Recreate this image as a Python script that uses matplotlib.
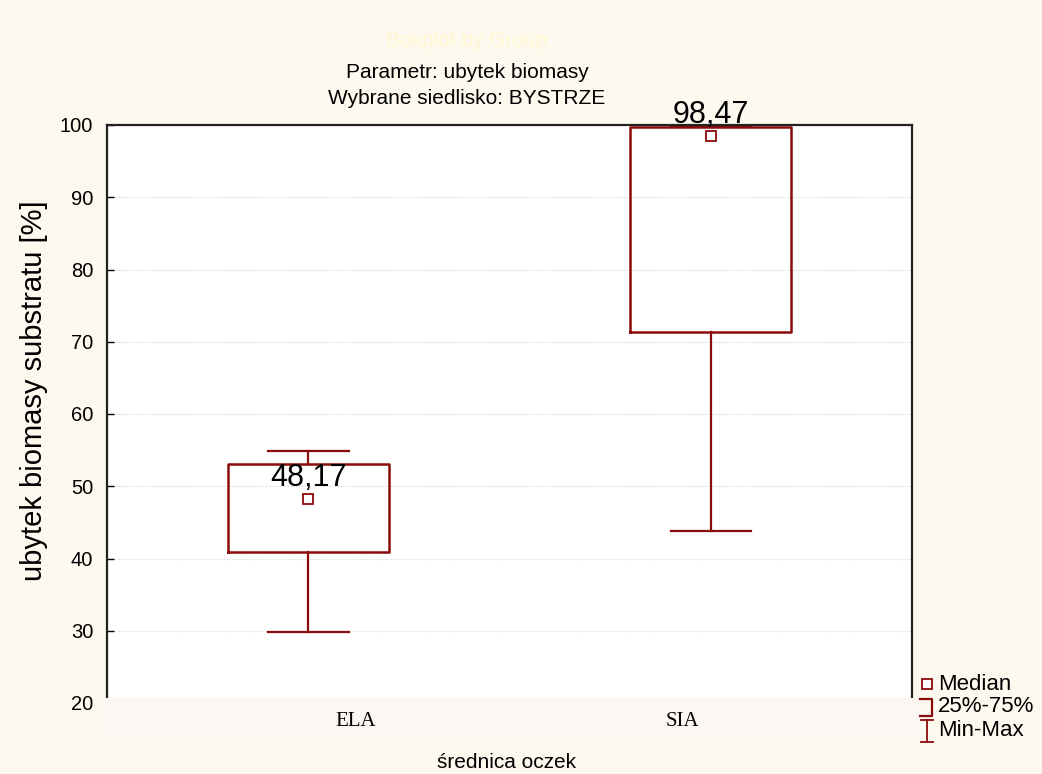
import matplotlib
matplotlib.use("Agg")
import matplotlib.pyplot as plt
from matplotlib.lines import Line2D

plt.rcParams['font.family'] = ['Liberation Sans', 'DejaVu Sans']

# Data: box-and-whisker summary per mesh diameter
categories = ["ELA", "SIA"]
medians = [48.17, 98.47]
q1 = [40.9, 71.3]
q3 = [53.1, 99.7]
mins = [29.8, 43.8]
maxs = [54.9, 99.8]

yticks = [20, 30, 40, 50, 60, 70, 80, 90, 100]
title = "Boxplot by Group"
subtitle1 = "Parametr: ubytek biomasy"
subtitle2 = "Wybrane siedlisko: BYSTRZE"
ylabel = "ubytek biomasy substratu [%]"
xlabel = "średnica oczek"
legend_labels = ["Median", "25%-75%", "Min-Max"]

BG = "#fdf9ef"
BAND = "#fcf7f2"
RED = "#8b0a0a"

W, H = 1042, 774
fig = plt.figure(figsize=(W / 100, H / 100), dpi=100, facecolor=BG)


def fx(px):
    return px / W


def fy(py):
    return 1 - py / H


ax = fig.add_axes([fx(107), fy(703), fx(912) - fx(107), fy(125) - fy(703)])
ax.set_facecolor("white")

stats = []
for i, c in enumerate(categories):
    stats.append(dict(label=c, med=medians[i], q1=q1[i], q3=q3[i],
                      whislo=mins[i], whishi=maxs[i], fliers=[]))

pos = list(range(len(categories)))
ax.bxp(stats, positions=pos, widths=0.4, capwidths=0.2, showfliers=False,
       boxprops=dict(color=RED, linewidth=1.8),
       whiskerprops=dict(color=RED, linewidth=1.6),
       capprops=dict(color=RED, linewidth=1.6),
       medianprops=dict(linewidth=0))

ax.plot(pos, medians, linestyle="none", marker="s", markersize=7,
        markerfacecolor="white", markeredgecolor=RED, markeredgewidth=1.3,
        zorder=5)

for p, m in zip(pos, medians):
    ax.annotate(f"{m:.2f}".replace(".", ","), xy=(p, m), xytext=(0, 9.5),
                textcoords="offset points", ha="center", va="baseline",
                fontsize=22, color="black", zorder=6, annotation_clip=False)

ax.set_xlim(-0.5, 1.5)
ax.set_ylim(20, 100)
ax.set_yticks(yticks)
ax.set_xticks([])
ax.tick_params(axis="y", direction="in", length=5, width=1, pad=10,
               labelsize=14.5, colors="black")
for y in yticks[1:-1]:
    ax.axhline(y, color="#d4d4d4", linestyle=(0, (1, 1.5)), linewidth=0.8,
               zorder=0)
for s in ax.spines.values():
    s.set_linewidth(1.6)
    s.set_color("#222222")
ax.set_ylabel(ylabel, fontsize=21)
ax.yaxis.set_label_coords(-0.0733, 0.54)

# Category label band below the plot area
band = fig.add_axes([fx(100), fy(740), fx(922) - fx(100), fy(698) - fy(740)])
band.set_facecolor(BAND)
for s in band.spines.values():
    s.set_visible(False)
band.set_xlim(-0.781, 1.731)
band.set_ylim(0, 1)
band.set_yticks([])
band.set_xticks(pos)
band.set_xticklabels([])
band.tick_params(axis="x", length=0)
for p, c in zip(pos, categories):
    band.text(p, 0.45, c, ha="center", va="center", fontsize=15,
              family=["Liberation Serif", "DejaVu Serif"])

# Titles
fig.text(fx(467), fy(40), title, ha="center", va="center", fontsize=15,
         color="#fff7d2")
fig.text(fx(467), fy(72), subtitle1, ha="center", va="center", fontsize=15)
fig.text(fx(467), fy(98), subtitle2, ha="center", va="center", fontsize=15)
fig.text(fx(507), fy(762), xlabel, ha="center", va="center", fontsize=15)

# Legend symbols
fig.add_artist(Line2D([fx(927)], [fy(684)], marker="s", markersize=7,
                      markerfacecolor="white", markeredgecolor=RED,
                      markeredgewidth=1.3, linestyle="none"))
fig.add_artist(Line2D([fx(920), fx(932), fx(932), fx(920)],
                      [fy(699), fy(699), fy(716), fy(716)],
                      color=RED, linewidth=1.6))
fig.add_artist(Line2D([fx(921), fx(933)], [fy(720), fy(720)], color=RED,
                      linewidth=1.3))
fig.add_artist(Line2D([fx(921), fx(933)], [fy(742), fy(742)], color=RED,
                      linewidth=1.3))
fig.add_artist(Line2D([fx(927), fx(927)], [fy(720), fy(742)], color=RED,
                      linewidth=1.3))
for ly, lab in zip([684, 707, 731], legend_labels):
    fig.text(fx(938), fy(ly), lab, ha="left", va="center", fontsize=16)

fig.savefig("out.png", dpi=100, facecolor=BG)
